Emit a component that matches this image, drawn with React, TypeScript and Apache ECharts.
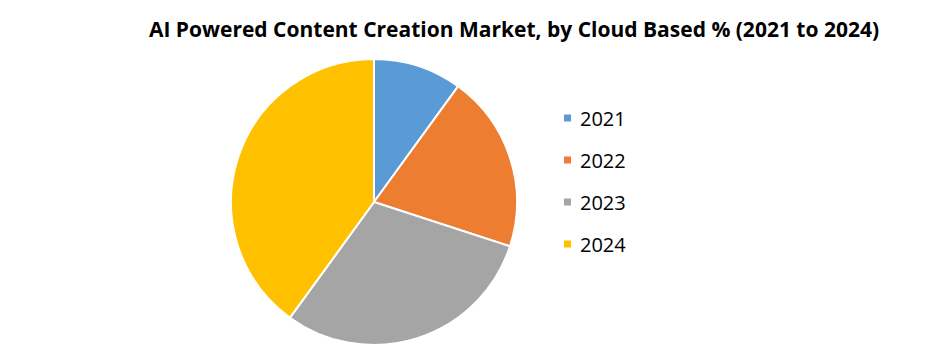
import React, { useEffect, useRef } from "react";
import * as echarts from "echarts";

const categories = ["2021", "2022", "2023", "2024"];
const values = [10, 20, 30, 40];
const colors = ["#5B9BD5", "#ED7D31", "#A5A5A5", "#FFC000"];
const titleText = "AI Powered Content Creation Market, by Cloud Based % (2021 to 2024)";

export default function App() {
  const ref = useRef<HTMLDivElement>(null);
  useEffect(() => {
    const chart = echarts.init(ref.current!, null, { renderer: "svg" });
    chart.setOption({
      animation: false,
      backgroundColor: "#ffffff",
      title: {
        text: titleText,
        left: 509,
        top: 13,
        textAlign: "center",
        textStyle: {
          fontFamily: "Open Sans",
          fontWeight: "bold",
          fontSize: 21,
          color: "#000000",
        },
      },
      legend: {
        orient: "vertical",
        left: 557,
        top: 103,
        itemWidth: 9,
        itemHeight: 9,
        itemGap: 22,
        icon: "rect",
        data: categories,
        textStyle: {
          fontFamily: "Open Sans",
          fontSize: 20,
          lineHeight: 20,
          color: "#000000",
          padding: [0, 0, 0, 3],
        },
      },
      series: [
        {
          type: "pie",
          center: [374, 202],
          radius: 143,
          startAngle: 90,
          clockwise: true,
          label: { show: false },
          labelLine: { show: false },
          itemStyle: { borderColor: "#ffffff", borderWidth: 2 },
          emphasis: { disabled: true },
          data: categories.map((c, i) => ({
            name: c,
            value: values[i],
            itemStyle: { color: colors[i] },
          })),
        },
      ],
    });
    return () => chart.dispose();
  }, []);
  return (
    <div
      ref={ref}
      style={{ position: "fixed", left: 0, top: 0, width: 940, height: 351 }}
    />
  );
}
